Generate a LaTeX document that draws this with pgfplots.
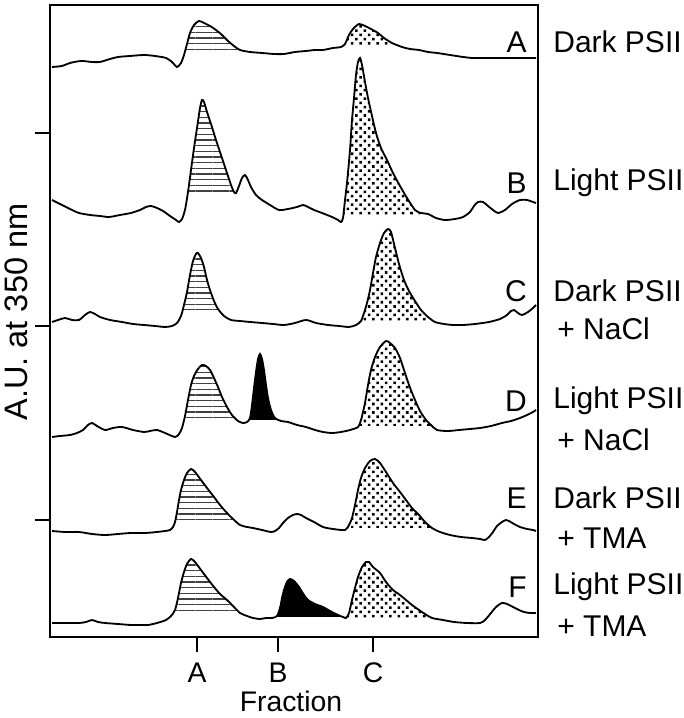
\documentclass[border=0pt]{standalone}
\usepackage{pgfplots}
\pgfplotsset{compat=1.18}
\usepgfplotslibrary{fillbetween}
\usetikzlibrary{patterns.meta}
\usepackage{fontspec}
\setmainfont{Liberation Sans}
\pgfplotsset{
  hatchfill/.style={pattern={Lines[distance=3.4pt, angle=0, line width=0.7pt]}, pattern color=black!75, draw=none, forget plot},
  dotfill/.style={pattern={Dots[distance=3.6pt, radius=1.1pt, angle=45]}, pattern color=black, draw=none, forget plot},
  blackfill/.style={fill=black, draw=none, forget plot},
  trace/.style={black, line width=1.1pt, smooth, tension=0.45, mark=none},
  base/.style={draw=none, mark=none, forget plot},
}
\begin{document}
\begin{tikzpicture}
\begin{axis}[
  x=0.6pt, y=0.6pt,
  xmin=50, xmax=538, ymin=5, ymax=637,
  y dir=reverse,
  clip=false,
  axis line style={line width=0.9pt},
  tick style={line width=0.9pt, black},
  tick align=outside,
  major tick length=9pt,
  xtick={197,278,373}, xticklabels={},
  ytick={133,326,520}, yticklabels={},
  xtick pos=bottom, ytick pos=left,
  font=\fontsize{18}{21}\selectfont,
]
% ---------------- Trace A ----------------
\addplot[trace, name path=A] coordinates {(52,67)(62,66)(70,63)(81,61)(92,62)(100,62)(110,59)(118,57)(130,56)(144,55)(155,56)(166,58)(172,62)(177,67)(181,63)(184,55)(187,44)(190,33)(194,25)(199,21)(204,23)(210,26)(216,30)(222,35)(228,41)(234,46)(240,50)(250,52)(262,53)(274,54)(284,54)(295,52)(306,51)(315,50)(323,50)(333,48)(341,47)(345,44)(349,35)(353,29)(359,24)(365,26)(371,29)(378,33)(384,38)(392,43)(402,47)(410,49)(419,50)(428,52)(437,53)(450,55)(463,57)(472,58)(480,58)(500,58)(520,58)(536,58)};
\addplot[base, name path=A1] coordinates {(170,52)(250,52)};
\addplot[base, name path=A2] coordinates {(330,46)(410,46)};
\addplot[hatchfill] fill between[of=A and A1, soft clip={domain=186:240}];
\addplot[dotfill] fill between[of=A and A2, soft clip={domain=343:400}];
% ---------------- Trace B ----------------
\addplot[trace, name path=B] coordinates {(52,200)(60,204)(70,209)(79,213)(90,215)(100,216)(109,217)(120,215)(131,213)(140,210)(146,207)(151,206)(157,208)(163,211)(170,216)(176,220)(179,222)(182,219)(185,210)(188,192)(191,170)(194,148)(197,128)(200,108)(202,100)(204,102)(207,112)(211,124)(216,140)(221,155)(226,170)(231,185)(234,192)(236,193)(239,186)(242,178)(245,175)(248,180)(251,187)(256,195)(262,200)(270,205)(279,210)(288,209)(297,207)(303,205)(308,207)(314,210)(322,213)(332,217)(338,220)(341,222)(343,218)(345,200)(347,183)(350,150)(352,120)(354,98)(356,75)(358,62)(360,58)(362,65)(365,82)(368,98)(372,116)(376,133)(381,148)(387,160)(393,173)(400,186)(407,198)(415,210)(421,213)(428,214)(436,218)(445,220)(455,219)(463,217)(470,212)(474,206)(478,202)(483,202)(488,206)(493,210)(498,213)(505,210)(512,204)(520,200)(527,200)(533,202)(536,203)};
\addplot[base, name path=B1] coordinates {(175,192)(245,192)};
\addplot[base, name path=B2] coordinates {(330,215)(430,215)};
\addplot[hatchfill] fill between[of=B and B1, soft clip={domain=188:234}];
\addplot[dotfill] fill between[of=B and B2, soft clip={domain=343:420}];
% ---------------- Trace C ----------------
\addplot[trace, name path=C] coordinates {(52,322)(58,320)(65,318)(72,320)(79,320)(85,315)(90,312)(95,314)(100,317)(110,320)(122,322)(133,324)(144,325)(155,326)(165,327)(172,326)(177,323)(181,316)(184,305)(187,292)(190,275)(193,261)(196,254)(198,253)(201,258)(204,267)(207,280)(210,290)(214,301)(218,309)(224,316)(231,320)(240,321)(250,322)(262,323)(273,324)(284,325)(295,323)(306,320)(316,323)(328,325)(339,326)(349,327)(356,325)(361,321)(364,313)(367,303)(370,290)(373,273)(376,257)(380,243)(384,233)(388,229)(391,232)(395,248)(399,264)(404,280)(409,291)(415,301)(421,310)(428,317)(435,322)(444,324)(453,325)(463,325)(475,324)(489,322)(500,319)(507,315)(511,311)(514,310)(518,313)(522,315)(528,312)(533,308)(536,305)};
\addplot[base, name path=C1] coordinates {(170,310)(230,310)};
\addplot[base, name path=C2] coordinates {(350,322)(445,322)};
\addplot[hatchfill] fill between[of=C and C1, soft clip={domain=183:218}];
\addplot[dotfill] fill between[of=C and C2, soft clip={domain=362:435}];
% ---------------- Trace D ----------------
\addplot[trace, name path=D] coordinates {(52,437)(60,436)(70,435)(77,433)(83,430)(88,425)(92,423)(97,426)(105,430)(113,428)(122,427)(133,430)(144,432)(150,431)(157,430)(165,433)(175,437)(179,434)(182,428)(185,416)(188,400)(191,385)(194,376)(198,369)(202,365)(206,366)(210,370)(214,378)(218,387)(222,397)(227,407)(232,415)(238,421)(243,423)(247,422)(250,418)(252,405)(254,388)(256,372)(258,359)(260,354)(262,359)(264,370)(266,385)(268,398)(271,410)(275,418)(281,421)(288,422)(297,425)(306,427)(315,430)(323,432)(332,433)(341,432)(350,430)(358,427)(361,420)(363,412)(365,403)(368,385)(371,370)(375,357)(380,347)(386,341)(390,343)(395,348)(400,358)(404,370)(409,385)(415,400)(420,411)(426,420)(431,425)(437,430)(448,431)(459,430)(470,429)(480,428)(491,426)(502,423)(511,421)(520,418)(527,415)(533,412)(536,410)};
\addplot[base, name path=D1] coordinates {(175,422)(250,422)};
\addplot[base, name path=D2] coordinates {(245,420)(290,420)};
\addplot[base, name path=D3] coordinates {(350,426)(445,426)};
\addplot[hatchfill] fill between[of=D and D1, soft clip={domain=186:240}];
\addplot[blackfill] fill between[of=D and D2, soft clip={domain=249:277}];
\addplot[dotfill] fill between[of=D and D3, soft clip={domain=360:432}];
% ---------------- Trace E ----------------
\addplot[trace, name path=E] coordinates {(52,531)(65,532)(79,532)(92,534)(105,535)(118,534)(131,533)(145,533)(157,532)(165,531)(170,530)(173,527)(175,522)(177,512)(179,500)(181,490)(184,480)(187,473)(191,469)(195,472)(201,480)(207,488)(214,497)(220,505)(227,513)(233,519)(240,525)(247,527)(253,528)(262,530)(271,532)(275,531)(279,528)(283,523)(288,518)(293,515)(297,514)(301,515)(306,518)(314,522)(323,527)(333,529)(345,530)(349,525)(352,518)(355,505)(358,490)(361,478)(365,468)(370,461)(375,459)(380,463)(386,472)(393,483)(400,492)(406,500)(412,508)(419,515)(425,522)(432,528)(440,532)(450,535)(461,537)(472,538)(480,539)(485,540)(489,537)(493,532)(497,526)(502,522)(506,520)(509,521)(514,524)(520,527)(527,529)(533,530)(536,531)};
\addplot[base, name path=E1] coordinates {(165,525)(250,525)};
\addplot[base, name path=E2] coordinates {(340,528)(445,528)};
\addplot[hatchfill] fill between[of=E and E1, soft clip={domain=175:240}];
\addplot[dotfill] fill between[of=E and E2, soft clip={domain=351:432}];
% ---------------- Trace F ----------------
\addplot[trace, name path=F] coordinates {(52,623)(65,623)(79,623)(86,622)(92,620)(98,622)(105,623)(118,624)(131,625)(140,625)(148,625)(157,623)(166,620)(171,616)(175,610)(178,598)(181,583)(184,572)(187,564)(191,559)(195,562)(201,570)(207,578)(214,587)(220,594)(227,600)(234,607)(240,613)(247,616)(253,618)(260,619)(266,618)(272,618)(277,616)(280,608)(282,598)(284,590)(287,582)(290,579)(294,581)(299,587)(304,595)(308,600)(315,604)(323,607)(330,611)(338,615)(343,617)(346,618)(349,613)(352,600)(355,588)(358,577)(362,567)(366,562)(369,562)(373,567)(380,573)(386,582)(393,590)(400,595)(406,600)(412,605)(419,610)(425,614)(432,618)(443,620)(454,622)(467,623)(480,623)(485,620)(491,613)(496,607)(502,603)(507,604)(513,607)(519,610)(524,612)(530,613)(536,613)};
\addplot[base, name path=F1] coordinates {(165,613)(250,613)};
\addplot[base, name path=F2] coordinates {(265,617)(355,617)};
\addplot[base, name path=F3] coordinates {(340,618)(445,618)};
\addplot[hatchfill] fill between[of=F and F1, soft clip={domain=175:240}];
\addplot[blackfill] fill between[of=F and F2, soft clip={domain=277:346}];
\addplot[dotfill] fill between[of=F and F3, soft clip={domain=348:432}];
% ---------------- Labels ----------------
\node[anchor=east, inner sep=0pt] at (axis cs:527,42) {A};
\node[anchor=east, inner sep=0pt] at (axis cs:527,183) {B};
\node[anchor=east, inner sep=0pt] at (axis cs:527,291) {C};
\node[anchor=east, inner sep=0pt] at (axis cs:527,401) {D};
\node[anchor=east, inner sep=0pt] at (axis cs:527,498) {E};
\node[anchor=east, inner sep=0pt] at (axis cs:527,587) {F};
\node[anchor=west, inner sep=0pt] at (axis cs:553,42) {Dark PSII};
\node[anchor=west, inner sep=0pt] at (axis cs:553,183) {Light PSII};
\node[anchor=west, inner sep=0pt] at (axis cs:553,291) {Dark PSII};
\node[anchor=west, inner sep=0pt] at (axis cs:557,329) {+ NaCl};
\node[anchor=west, inner sep=0pt] at (axis cs:553,401) {Light PSII};
\node[anchor=west, inner sep=0pt] at (axis cs:557,440) {+ NaCl};
\node[anchor=west, inner sep=0pt] at (axis cs:553,498) {Dark PSII};
\node[anchor=west, inner sep=0pt] at (axis cs:557,538) {+ TMA};
\node[anchor=west, inner sep=0pt] at (axis cs:553,587) {Light PSII};
\node[anchor=west, inner sep=0pt] at (axis cs:557,626) {+ TMA};
\node[inner sep=0pt, font=\fontsize{17}{20}\selectfont] at (axis cs:197,673) {A};
\node[inner sep=0pt, font=\fontsize{17}{20}\selectfont] at (axis cs:278,673) {B};
\node[inner sep=0pt, font=\fontsize{17}{20}\selectfont] at (axis cs:373,673) {C};
\node[inner sep=0pt, font=\fontsize{17}{20}\selectfont] at (axis cs:291,701) {Fraction};
\node[rotate=90, inner sep=0pt, font=\fontsize{19.5}{22}\selectfont] at (axis cs:16,312) {A.U. at 350 nm};
\path (axis cs:0,0) (axis cs:683,718);
\end{axis}
\end{tikzpicture}
\end{document}
